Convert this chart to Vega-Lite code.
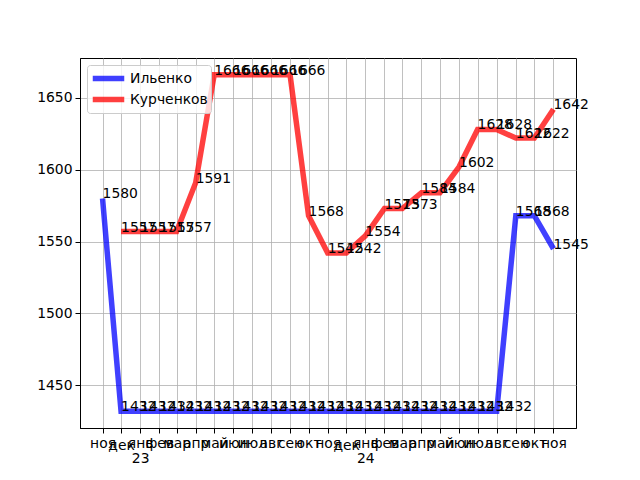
{
  "$schema": "https://vega.github.io/schema/vega-lite/v6.json",
  "autosize": "none",
  "width": 496,
  "height": 370,
  "padding": {"left": 80, "top": 58, "right": 64, "bottom": 52},
  "background": "white",
  "config": {
    "view": {"stroke": "black", "strokeWidth": 1},
    "font": "DejaVu Sans"
  },
  "data": {
    "values": [
      {"d": "2022-11-01", "s": "Ильенко", "v": 1580},
      {"d": "2022-12-01", "s": "Ильенко", "v": 1432},
      {"d": "2023-01-01", "s": "Ильенко", "v": 1432},
      {"d": "2023-02-01", "s": "Ильенко", "v": 1432},
      {"d": "2023-03-01", "s": "Ильенко", "v": 1432},
      {"d": "2023-04-01", "s": "Ильенко", "v": 1432},
      {"d": "2023-05-01", "s": "Ильенко", "v": 1432},
      {"d": "2023-06-01", "s": "Ильенко", "v": 1432},
      {"d": "2023-07-01", "s": "Ильенко", "v": 1432},
      {"d": "2023-08-01", "s": "Ильенко", "v": 1432},
      {"d": "2023-09-01", "s": "Ильенко", "v": 1432},
      {"d": "2023-10-01", "s": "Ильенко", "v": 1432},
      {"d": "2023-11-01", "s": "Ильенко", "v": 1432},
      {"d": "2023-12-01", "s": "Ильенко", "v": 1432},
      {"d": "2024-01-01", "s": "Ильенко", "v": 1432},
      {"d": "2024-02-01", "s": "Ильенко", "v": 1432},
      {"d": "2024-03-01", "s": "Ильенко", "v": 1432},
      {"d": "2024-04-01", "s": "Ильенко", "v": 1432},
      {"d": "2024-05-01", "s": "Ильенко", "v": 1432},
      {"d": "2024-06-01", "s": "Ильенко", "v": 1432},
      {"d": "2024-07-01", "s": "Ильенко", "v": 1432},
      {"d": "2024-08-01", "s": "Ильенко", "v": 1432},
      {"d": "2024-09-01", "s": "Ильенко", "v": 1568},
      {"d": "2024-10-01", "s": "Ильенко", "v": 1568},
      {"d": "2024-11-01", "s": "Ильенко", "v": 1545},
      {"d": "2022-12-01", "s": "Курченков", "v": 1557},
      {"d": "2023-01-01", "s": "Курченков", "v": 1557},
      {"d": "2023-02-01", "s": "Курченков", "v": 1557},
      {"d": "2023-03-01", "s": "Курченков", "v": 1557},
      {"d": "2023-04-01", "s": "Курченков", "v": 1591},
      {"d": "2023-05-01", "s": "Курченков", "v": 1666},
      {"d": "2023-06-01", "s": "Курченков", "v": 1666},
      {"d": "2023-07-01", "s": "Курченков", "v": 1666},
      {"d": "2023-08-01", "s": "Курченков", "v": 1666},
      {"d": "2023-09-01", "s": "Курченков", "v": 1666},
      {"d": "2023-10-01", "s": "Курченков", "v": 1568},
      {"d": "2023-11-01", "s": "Курченков", "v": 1542},
      {"d": "2023-12-01", "s": "Курченков", "v": 1542},
      {"d": "2024-01-01", "s": "Курченков", "v": 1554},
      {"d": "2024-02-01", "s": "Курченков", "v": 1573},
      {"d": "2024-03-01", "s": "Курченков", "v": 1573},
      {"d": "2024-04-01", "s": "Курченков", "v": 1584},
      {"d": "2024-05-01", "s": "Курченков", "v": 1584},
      {"d": "2024-06-01", "s": "Курченков", "v": 1602},
      {"d": "2024-07-01", "s": "Курченков", "v": 1628},
      {"d": "2024-08-01", "s": "Курченков", "v": 1628},
      {"d": "2024-09-01", "s": "Курченков", "v": 1622},
      {"d": "2024-10-01", "s": "Курченков", "v": 1622},
      {"d": "2024-11-01", "s": "Курченков", "v": 1642}
    ]
  },
  "encoding": {
    "x": {
      "field": "d",
      "type": "temporal",
      "scale": {"type": "utc", "domain": [1664102880000, 1733577120000]},
      "axis": {
        "title": null,
        "values": [
          {"year": 2022, "month": 11, "date": 1, "utc": true},
          {"year": 2022, "month": 12, "date": 1, "utc": true},
          {"year": 2023, "month": 1, "date": 1, "utc": true},
          {"year": 2023, "month": 2, "date": 1, "utc": true},
          {"year": 2023, "month": 3, "date": 1, "utc": true},
          {"year": 2023, "month": 4, "date": 1, "utc": true},
          {"year": 2023, "month": 5, "date": 1, "utc": true},
          {"year": 2023, "month": 6, "date": 1, "utc": true},
          {"year": 2023, "month": 7, "date": 1, "utc": true},
          {"year": 2023, "month": 8, "date": 1, "utc": true},
          {"year": 2023, "month": 9, "date": 1, "utc": true},
          {"year": 2023, "month": 10, "date": 1, "utc": true},
          {"year": 2023, "month": 11, "date": 1, "utc": true},
          {"year": 2023, "month": 12, "date": 1, "utc": true},
          {"year": 2024, "month": 1, "date": 1, "utc": true},
          {"year": 2024, "month": 2, "date": 1, "utc": true},
          {"year": 2024, "month": 3, "date": 1, "utc": true},
          {"year": 2024, "month": 4, "date": 1, "utc": true},
          {"year": 2024, "month": 5, "date": 1, "utc": true},
          {"year": 2024, "month": 6, "date": 1, "utc": true},
          {"year": 2024, "month": 7, "date": 1, "utc": true},
          {"year": 2024, "month": 8, "date": 1, "utc": true},
          {"year": 2024, "month": 9, "date": 1, "utc": true},
          {"year": 2024, "month": 10, "date": 1, "utc": true},
          {"year": 2024, "month": 11, "date": 1, "utc": true}
        ],
        "labelExpr": "utcmonth(datum.value) === 0 ? ['янв', utcFormat(datum.value, '%y')] : ['янв','фев','мар','апр','май','июн','июл','авг','сен','окт','ноя','дек'][utcmonth(datum.value)]",
        "labelOverlap": false,
        "labelBound": false,
        "labelFlush": false,
        "labelFontSize": 13.9,
        "labelColor": "black",
        "labelPadding": {"condition": {"test": "utcmonth(datum.value) === 11", "value": 5}, "value": 3},
        "tickColor": "black",
        "tickSize": 5,
        "domainColor": "black",
        "gridColor": "#b0b0b0",
        "gridWidth": 0.8,
        "grid": true
      }
    },
    "y": {
      "field": "v",
      "type": "quantitative",
      "scale": {"domain": [1420.3, 1677.7], "nice": false, "zero": false},
      "axis": {
        "title": null,
        "values": [1450, 1500, 1550, 1600, 1650],
        "format": "d",
        "labelFontSize": 13.9,
        "labelColor": "black",
        "labelPadding": 3,
        "tickColor": "black",
        "tickSize": 5,
        "domainColor": "black",
        "gridColor": "#b0b0b0",
        "gridWidth": 0.8,
        "grid": true
      }
    }
  },
  "layer": [
    {
      "mark": {"type": "line", "strokeWidth": 5.5, "strokeOpacity": 0.75, "clip": true},
      "encoding": {
        "color": {
          "field": "s",
          "type": "nominal",
          "scale": {"domain": ["Ильенко", "Курченков"], "range": ["#0000ff", "#ff0000"]},
          "legend": {
            "title": null,
            "orient": "top-left",
            "offset": 7,
            "padding": 3,
            "symbolType": "M-2.1,0H2.1",
            "symbolSize": 225,
            "symbolStrokeWidth": 5.5,
            "symbolOpacity": 0.75,
            "symbolOffset": 8,
            "labelOffset": 11,
            "labelFontSize": 13.9,
            "labelColor": "black",
            "labelFont": "DejaVu Sans",
            "clipHeight": 21,
            "rowPadding": 0,
            "strokeColor": "#cccccc",
            "fillColor": "rgba(255,255,255,0.8)",
            "cornerRadius": 3
          }
        }
      }
    },
    {
      "mark": {"type": "text", "align": "left", "baseline": "alphabetic", "fontSize": 13.9, "color": "black", "font": "DejaVu Sans"},
      "encoding": {
        "text": {"field": "v", "type": "quantitative", "format": "d"}
      }
    }
  ]
}
